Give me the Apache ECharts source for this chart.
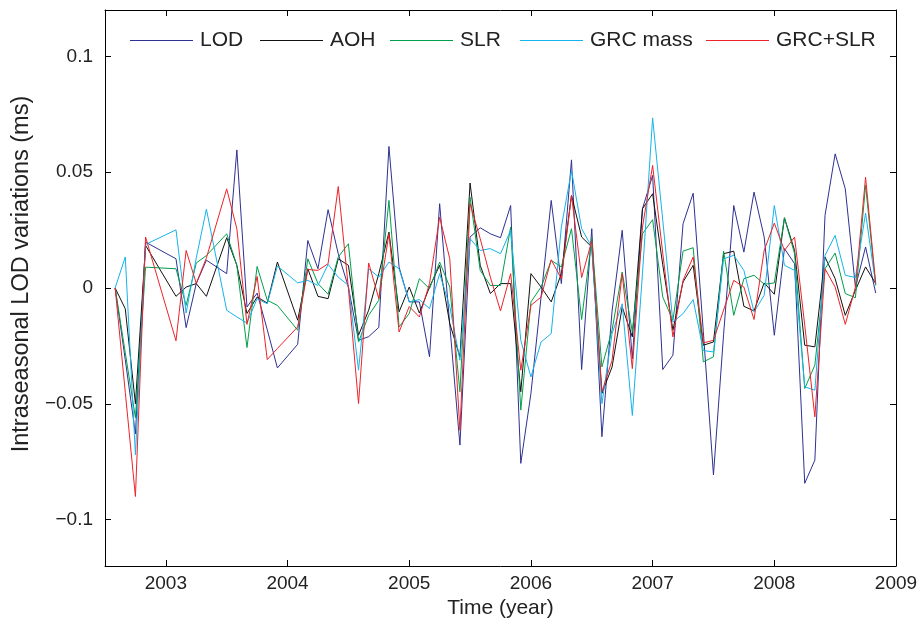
<!DOCTYPE html>
<html>
<head>
<meta charset="utf-8">
<script src="https://cdn.jsdelivr.net/npm/echarts@6/dist/echarts.min.js"></script>
<style>
html,body{margin:0;padding:0;background:#fff;}
#chart{width:922px;height:626px;}
</style>
</head>
<body>
<div id="chart"></div>
<script>
// Monthly epochs (YYYY-MM); missing months are simply absent
const months = ['2002-08','2002-09','2002-10','2002-11','2003-02','2003-03','2003-04','2003-05','2003-07','2003-08',
  '2003-09','2003-10','2003-11','2003-12','2004-02','2004-03','2004-04','2004-05','2004-06','2004-07',
  '2004-08','2004-09','2004-10','2004-11','2004-12','2005-01','2005-02','2005-03','2005-04','2005-05',
  '2005-06','2005-07','2005-08','2005-09','2005-10','2005-11','2005-12','2006-01','2006-02','2006-03',
  '2006-04','2006-05','2006-06','2006-07','2006-08','2006-09','2006-10','2006-11','2006-12','2007-01',
  '2007-02','2007-03','2007-04','2007-05','2007-06','2007-07','2007-08','2007-09','2007-10','2007-11',
  '2007-12','2008-01','2008-02','2008-03','2008-04','2008-05','2008-06','2008-07','2008-08','2008-09',
  '2008-10','2008-11'];

const lod = [0,-0.031,-0.063,0.0198,0.0126,-0.0171,0.0019,0.012,0.0062,0.0596,
  -0.0082,-0.0022,-0.018,-0.0345,-0.0243,0.0205,0.0083,0.0338,0.0148,0.0004,
  -0.0226,-0.021,-0.017,0.0611,0.009,-0.006,-0.006,-0.0297,0.0364,-0.016,
  -0.0678,0.022,0.026,0.0234,0.0217,0.0356,-0.0757,-0.0455,-0.0039,0.0378,
  0.0019,0.0553,-0.0352,0.0256,-0.0642,-0.01,0.0249,-0.0305,0.0342,0.0486,
  -0.0352,-0.029,0.0277,0.0409,-0.0188,-0.0807,-0.02,0.0356,0.0155,0.0414,
  0.022,-0.0204,0.017,0.0105,-0.0843,-0.0743,0.0313,0.0579,0.0428,0.0004,
  0.0177,-0.0022];

const aoh = [0,-0.009,-0.050,0.0184,-0.0036,0.0004,0.0019,-0.0036,0.0217,0.0098,
  -0.011,-0.0039,-0.0065,0.0112,-0.0139,0.0083,-0.0036,-0.0046,0.0126,0.0098,
  -0.0204,-0.0096,0.0062,0.0241,-0.0103,0.0004,-0.0108,0.0004,0.0098,-0.0154,
  -0.0297,0.0453,0.0098,-0.0024,0.0019,0.0019,-0.0448,0.0062,0.0004,-0.006,
  0.0062,0.040,0.022,0.0177,-0.0455,-0.0341,-0.0082,-0.0211,0.0342,0.0407,
  0.010,-0.0182,0.0026,0.0098,-0.0247,-0.0233,0.0148,0.0159,-0.0079,-0.0099,
  0.0022,-0.0027,0.0303,0.0162,-0.0247,-0.0254,0.0134,0.004,-0.0118,-0.001,
  0.0091,0.0019];

const slr = [0,-0.028,-0.056,0.009,0.0083,-0.0075,0.0108,0.014,0.0234,0.0098,
  -0.0257,0.0093,-0.0053,-0.0075,-0.0182,0.0126,0.0019,-0.0027,0.0134,0.0191,
  -0.0233,-0.0118,-0.0053,0.0378,-0.0168,-0.011,0.004,-0.0003,0.0112,0.0004,
  -0.0448,0.0392,0.0076,0.0011,0.0011,0.0263,-0.0527,-0.006,0.0004,0.0119,
  0.0091,0.0256,-0.0136,0.0213,-0.0341,-0.0182,0.0069,-0.019,0.0234,0.0295,
  -0.0039,-0.0139,0.0159,0.0174,-0.0319,-0.0297,0.0159,-0.0118,0.004,0.0055,
  0.0016,0.0022,0.0303,0.0148,-0.0434,-0.0333,0.0083,0.0151,-0.0024,-0.0042,
  0.0443,0.0011];

const grcMass = [0,0.0134,-0.072,0.0188,0.0251,-0.0108,0.013,0.034,-0.0096,-0.0125,
  -0.0151,-0.0046,-0.0068,0.0095,0.0022,0.0033,0.0011,0.0102,0.0047,0.0011,
  -0.0355,0.0083,0.0047,0.0112,0.0083,-0.006,-0.005,-0.0089,0.0062,-0.008,
  -0.0312,0.0213,0.0162,0.017,0.0148,0.0249,-0.0226,-0.0384,-0.0233,-0.0197,
  0.0263,0.0507,0.0256,0.0177,-0.0499,-0.0197,-0.0068,-0.055,0.0062,0.0734,
  0.0292,-0.0147,-0.0111,-0.005,-0.027,-0.0276,0.0126,0.0141,0.0076,-0.0103,
  -0.0032,0.0356,0.0098,0.0076,-0.0427,-0.0441,0.0141,0.0227,0.0055,0.0045,
  0.0323,0.0016];

const grcSlr = [0,-0.045,-0.090,0.022,-0.0228,0.0162,0.002,0.013,0.0428,0.0256,
  -0.0157,0.005,-0.0309,-0.0261,-0.0168,0.008,0.0076,0.0105,0.0438,0.0,
  -0.0499,0.0108,-0.0046,0.0234,-0.019,-0.008,-0.0125,0.0019,0.0306,0.0126,
  -0.0614,0.0364,0.0213,0.0047,-0.0099,0.0062,-0.0355,-0.0075,-0.0039,0.0122,
  0.004,0.040,0.0045,0.0203,-0.0448,-0.0312,0.0062,-0.0348,0.0263,0.0529,
  0.015,-0.0211,0.0033,0.0134,-0.0237,-0.0226,-0.0095,0.0033,0.0004,-0.0136,
  0.0162,0.028,0.0162,0.022,-0.016,-0.0556,0.0083,0.0004,-0.0157,0.0004,
  0.0478,0.0019];

const seriesNames = ['LOD','AOH','SLR','GRC mass','GRC+SLR'];
const seriesColors = ['#2e3192','#111111','#00a04a','#14b4ec','#ee2229'];
const xTicks = [2003,2004,2005,2006,2007,2008,2009];
const yTicks = [-0.1,-0.05,0,0.05,0.1];

function toYear(s){ const p = s.split('-'); return +p[0] + (+p[1]-1)/12; }
const xs = months.map(toYear);
const allData = [lod, aoh, slr, grcMass, grcSlr];

const FONT = "'Liberation Sans', Arial, Helvetica, sans-serif";
const chart = echarts.init(document.getElementById('chart'), null, {renderer:'canvas'});

function fmtY(v){
  if (Math.abs(v) < 1e-9) return '0';
  const s = String(Math.round(v*100)/100);
  return s.replace('-', '\u2212');
}

// Legend (drawn as graphic: sample line + label)
const legendLeft = [130, 260, 390, 520, 706];
const legendLineLen = 63, legendY = 40.5, legendTextGap = 7;
const legendGraphics = [];
seriesNames.forEach(function(n, i){
  const x0 = legendLeft[i];
  legendGraphics.push({
    type:'line', silent:true,
    shape:{x1:x0, y1:legendY, x2:x0+legendLineLen, y2:legendY},
    style:{stroke:seriesColors[i], lineWidth:1}
  });
  legendGraphics.push({
    type:'text', silent:true, x:x0+legendLineLen+legendTextGap, y:legendY,
    style:{text:n, fill:'#222', font:"21px 'Liberation Sans', Arial, sans-serif",
      textAlign:'left', textVerticalAlign:'middle'}
  });
});

const axisLineStyle = {color:'#000', width:1};
const option = {
  animation:false,
  backgroundColor:'#fff',
  grid:{left:105, right:26, top:10, bottom:60, containLabel:false},
  graphic: legendGraphics,
  xAxis:[{
    type:'value', min:2002.5, max:2009, position:'bottom',
    name:'Time (year)', nameLocation:'middle', nameGap:30,
    nameTextStyle:{fontFamily:FONT, fontSize:21, color:'#222'},
    axisLine:{show:true, onZero:false, lineStyle:axisLineStyle},
    axisTick:{show:true, inside:true, length:6, customValues:xTicks, lineStyle:axisLineStyle},
    axisLabel:{show:true, customValues:xTicks, margin:8, fontFamily:FONT, fontSize:19, color:'#222',
      formatter:function(v){return String(Math.round(v));}},
    splitLine:{show:false}
  },{
    type:'value', min:2002.5, max:2009, position:'top',
    axisLine:{show:true, onZero:false, lineStyle:axisLineStyle},
    axisTick:{show:true, inside:true, length:6, customValues:xTicks, lineStyle:axisLineStyle},
    axisLabel:{show:false},
    splitLine:{show:false}
  }],
  yAxis:[{
    type:'value', min:-0.12, max:0.12, position:'left',
    name:'Intraseasonal LOD variations (ms)', nameLocation:'middle', nameGap:71, nameRotate:90,
    nameTextStyle:{fontFamily:FONT, fontSize:23.5, color:'#222', padding:[0,0,0,28]},
    axisLine:{show:true, onZero:false, lineStyle:axisLineStyle},
    axisTick:{show:true, inside:true, length:6, customValues:yTicks, lineStyle:axisLineStyle},
    axisLabel:{show:true, customValues:yTicks, margin:12, fontFamily:FONT, fontSize:19, color:'#222', formatter:fmtY},
    splitLine:{show:false}
  },{
    type:'value', min:-0.12, max:0.12, position:'right',
    axisLine:{show:true, onZero:false, lineStyle:axisLineStyle},
    axisTick:{show:true, inside:true, length:6, customValues:yTicks, lineStyle:axisLineStyle},
    axisLabel:{show:false},
    splitLine:{show:false}
  }],
  series: seriesNames.map(function(name, i){
    return {
      name:name, type:'line', xAxisIndex:0, yAxisIndex:0,
      data: xs.map(function(x, j){ return [x, allData[i][j]]; }),
      symbol:'none', showSymbol:false,
      lineStyle:{width:1, color:seriesColors[i]},
      itemStyle:{color:seriesColors[i]},
      z: 2 + i
    };
  })
};
chart.setOption(option);
</script>
</body>
</html>
